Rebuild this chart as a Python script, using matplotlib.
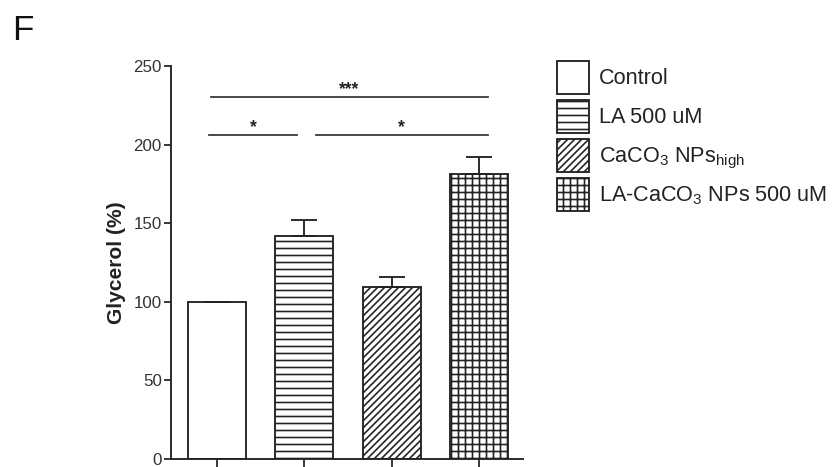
import matplotlib
matplotlib.use("Agg")
import matplotlib.pyplot as plt

plt.rcParams['font.family'] = ['Liberation Sans', 'DejaVu Sans']
plt.rcParams['mathtext.fontset'] = 'custom'
plt.rcParams['mathtext.rm'] = 'Liberation Sans'
plt.rcParams['mathtext.default'] = 'regular'
plt.rcParams['hatch.linewidth'] = 1.4
plt.rcParams['hatch.color'] = '#222222'

# data
groups = ['Control', 'LA 500 uM', r'CaCO$_3$ NPs$_{high}$', r'LA-CaCO$_3$ NPs 500 uM']
glycerol = [100, 142, 109.5, 181.5]
sem = [0, 10, 6.5, 10.5]
hatches = ['', '--', '////', '++']

# significance brackets: (x start, x end, y, label)
sig_lines = [(-0.07, 3.10, 230, '***'),
             (-0.09, 0.92, 206, '*'),
             (1.13, 3.10, 206, '*')]

DPI = 84
fig = plt.figure(figsize=(834 / DPI, 467 / DPI), dpi=DPI)
ax = fig.add_axes([171 / 834, 8 / 467, (523 - 171) / 834, (459 - 66) / 467])

x = list(range(len(groups)))
edge = '#222222'
bars = ax.bar(x, glycerol, width=0.665, color='white', edgecolor=edge,
              linewidth=1.6, hatch=hatches, zorder=2)

ax.errorbar(x, glycerol, yerr=[[0] * len(sem), sem], fmt='none',
            ecolor=edge, elinewidth=1.6, capsize=11.5, capthick=1.6, zorder=3)

for x0, x1, yy, lab in sig_lines:
    ax.plot([x0, x1], [yy, yy], color='#333333', lw=1.5)
    ax.text((x0 + x1) / 2, yy + 2, lab, ha='center', va='baseline',
            fontsize=15, fontweight='bold', color='#222222')

ax.set_xlim(-0.53, 3.505)
ax.set_ylim(0, 250)
ax.set_yticks([0, 50, 100, 150, 200, 250])
ax.set_xticks(x)
ax.set_xticklabels([])
ax.tick_params(axis='y', direction='out', length=6, width=1.5,
               labelsize=14.5, colors='#222222', labelcolor='#333333', pad=2)
ax.tick_params(axis='x', direction='out', length=7, width=1.5, colors='#222222')
for s in ['top', 'right']:
    ax.spines[s].set_visible(False)
for s in ['left', 'bottom']:
    ax.spines[s].set_linewidth(1.6)
    ax.spines[s].set_color('#222222')

ax.set_ylabel('Glycerol (%)', fontsize=18, fontweight='bold',
              color='#222222', labelpad=6)

leg = fig.legend(handles=list(bars), labels=groups, loc='upper left',
                 bbox_to_anchor=(557 / 834, 1 - 61 / 467), frameon=False,
                 fontsize=18.5, handlelength=1.5, handleheight=1.95,
                 handletextpad=0.45, labelspacing=0.3, borderpad=0,
                 borderaxespad=0)
for t in leg.get_texts():
    t.set_color('#222222')

fig.text(12 / 834, 1 - 40 / 467, 'F', fontsize=30, color='#111111')

fig.savefig('out.png', dpi=DPI)
